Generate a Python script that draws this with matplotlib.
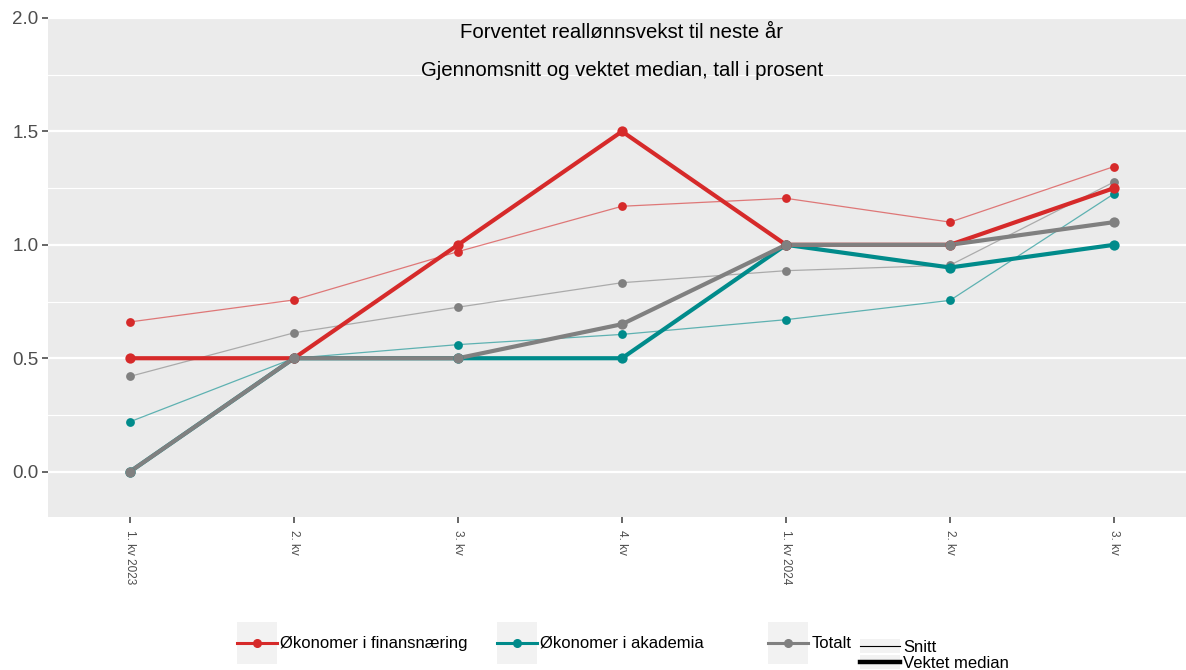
import matplotlib
matplotlib.use("Agg")
import matplotlib.pyplot as plt
from matplotlib.lines import Line2D
from matplotlib.patches import Rectangle
from matplotlib.legend_handler import HandlerTuple, HandlerLine2D
from matplotlib.ticker import MultipleLocator, FixedLocator, FormatStrFormatter

plt.rcParams['font.family'] = ['Liberation Sans', 'DejaVu Sans']

quarters = ["1. kv 2023", "2. kv", "3. kv", "4. kv", "1. kv 2024", "2. kv", "3. kv"]

# Snitt (gjennomsnitt)
finans_snitt = [0.66, 0.757, 0.97, 1.17, 1.205, 1.10, 1.345]
akademia_snitt = [0.22, 0.50, 0.56, 0.605, 0.67, 0.755, 1.225]
totalt_snitt = [0.42, 0.612, 0.725, 0.833, 0.886, 0.91, 1.277]

# Vektet median
finans_median = [0.5, 0.5, 1.0, 1.5, 1.0, 1.0, 1.25]
akademia_median = [0.0, 0.5, 0.5, 0.5, 1.0, 0.9, 1.0]
totalt_median = [0.0, 0.5, 0.5, 0.65, 1.0, 1.0, 1.1]

series_names = ["Økonomer i finansnæring", "Økonomer i akademia", "Totalt"]
colors = ["#d62a2a", "#008b8b", "#808080"]


class CenteredLine(HandlerLine2D):
    # put the key line in the middle of the key box
    def create_artists(self, legend, orig_handle, xdescent, ydescent,
                       width, height, fontsize, trans):
        artists = super().create_artists(legend, orig_handle, xdescent, ydescent,
                                         width, height, fontsize, trans)
        for a in artists:
            a.set_ydata([height / 2 - ydescent] * len(a.get_xdata()))
        return artists


W, H = 1186, 670
fig = plt.figure(figsize=(W / 100, H / 100), dpi=100)
ax = fig.add_axes([48 / W, 1 - 517 / H, 1 - 48 / W, (517 - 18) / H])
ax.set_facecolor("#ebebeb")

x = list(range(1, len(quarters) + 1))

snitt = [finans_snitt, akademia_snitt, totalt_snitt]
median = [finans_median, akademia_median, totalt_median]

for vals, col in zip(snitt, colors):
    ax.plot(x, vals, color=col, lw=0.9, alpha=0.6, zorder=3)
    ax.scatter(x, vals, color=col, s=40, zorder=4, linewidths=0)

# draw akademia first, then finans, totalt on top
for i in [1, 0, 2]:
    ax.plot(x, median[i], color=colors[i], lw=3.0, zorder=5, solid_capstyle="round")
    ax.scatter(x, median[i], color=colors[i], s=55, zorder=6, linewidths=0)

ax.set_xlim(0.5, 0.5 + (W - 48) / 164)
ax.set_ylim(-0.2, 2.0)

ax.yaxis.set_major_locator(MultipleLocator(0.5))
ax.yaxis.set_minor_locator(MultipleLocator(0.25))
ax.yaxis.set_major_formatter(FormatStrFormatter("%.1f"))
ax.set_xticks(x)
ax.set_xticklabels(quarters, rotation=-90, fontsize=8.5, color="#4d4d4d",
                   va="top", ha="center")
ax.tick_params(axis="y", labelsize=13.5, colors="#4d4d4d", length=4, width=1.2,
               which="major", pad=3)
ax.tick_params(axis="y", which="minor", length=0)
ax.tick_params(axis="x", length=4, width=1.2, colors="#4d4d4d", pad=5)

ax.grid(True, which="major", axis="y", color="white", lw=1.6)
ax.grid(True, which="minor", axis="y", color="white", lw=0.8)
ax.xaxis.set_minor_locator(FixedLocator([1, 5]))
ax.grid(True, which="minor", axis="x", color="white", lw=1.6)
ax.tick_params(axis="x", which="minor", length=0)
ax.set_axisbelow(True)
for s in ax.spines.values():
    s.set_visible(False)

title_x = 0.5 + (622 - 48) / 164
ax.text(title_x, 1.935, "Forventet reallønnsvekst til neste år",
        ha="center", va="center", fontsize=14.7, color="black", zorder=7)
ax.text(title_x, 1.77, "Gjennomsnitt og vektet median, tall i prosent",
        ha="center", va="center", fontsize=14.7, color="black", zorder=7)

# legends
key_bg = "#f2f2f2"
tuple_map = {tuple: HandlerTuple(ndivide=1, pad=0), Line2D: CenteredLine()}
key_left = [237, 497, 768]
for name, col, kx in zip(series_names, colors, key_left):
    bg = Rectangle((0, 0), 1, 1, facecolor=key_bg, edgecolor="none")
    ln = Line2D([], [], color=col, lw=2.2, marker="o", markersize=5.5)
    fig.legend([(bg, ln)], [name], loc="center left",
               bbox_to_anchor=(kx / W, 1 - 643 / H), frameon=False,
               handler_map=tuple_map, borderpad=0, borderaxespad=0,
               handlelength=2.4, handleheight=3.45, handletextpad=0.2,
               fontsize=12)

size_handles = []
for lw in [0.8, 3.2]:
    bg = Rectangle((0, 0), 1, 1, facecolor=key_bg, edgecolor="none")
    ln = Line2D([], [], color="black", lw=lw)
    size_handles.append((bg, ln))
fig.legend(size_handles, ["Snitt", "Vektet median"], ncol=1, loc="center left",
           bbox_to_anchor=(860 / W, 1 - 655 / H), frameon=False,
           handler_map=tuple_map, borderpad=0, borderaxespad=0,
           handlelength=2.4, handleheight=0.9, handletextpad=0.2,
           labelspacing=0.0, fontsize=12)

fig.savefig("out.png", dpi=100, facecolor="white")
